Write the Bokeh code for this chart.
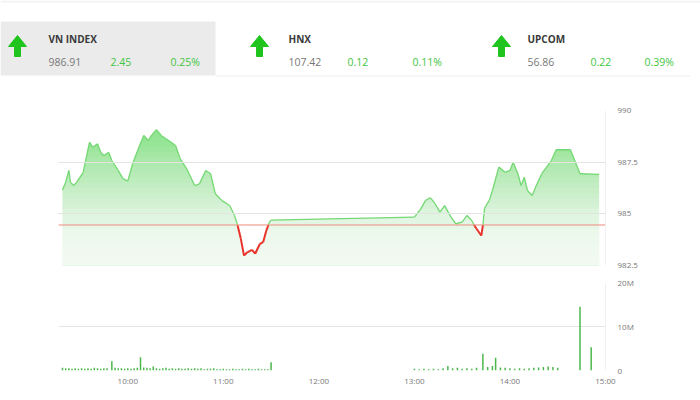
import numpy as np
from bokeh.plotting import figure
from bokeh.layouts import column
from bokeh.models import Range1d, FixedTicker, Span
from bokeh.embed import file_html
from bokeh.resources import INLINE
from bokeh.core.properties import value

# ---------------- data ----------------
index_names = ["VN INDEX", "HNX", "UPCOM"]
index_values = ["986.91", "107.42", "56.86"]
index_changes = ["2.45", "0.12", "0.22"]
index_pcts = ["0.25%", "0.11%", "0.39%"]

ref_price = 984.46

price_times = ["09:19", "09:21", "09:23", "09:24", "09:26", "09:28", "09:32", "09:34",
               "09:36", "09:38", "09:41", "09:43", "09:45", "09:48", "09:50", "09:54",
               "09:57", "10:00", "10:03", "10:07", "10:10", "10:13", "10:14", "10:18",
               "10:21", "10:24", "10:27", "10:30", "10:33", "10:37", "10:42", "10:45",
               "10:49", "10:52", "10:55", "10:59", "11:04", "11:07", "11:09", "11:11",
               "11:13", "11:15", "11:18", "11:20", "11:23", "11:25", "11:27", "11:29",
               "11:30",
               "13:00", "13:04", "13:07", "13:10", "13:13", "13:16", "13:19", "13:23",
               "13:26", "13:30", "13:33", "13:36", "13:38", "13:39", "13:42", "13:43",
               "13:44", "13:45", "13:47", "13:49", "13:53", "13:57", "14:00", "14:02",
               "14:05", "14:07", "14:09", "14:11", "14:14", "14:17", "14:20", "14:23",
               "14:26", "14:29", "14:38", "14:44", "14:56"]
price_values = [986.15, 986.53, 987.10, 986.53, 986.37, 986.53, 987.01, 987.74,
                988.47, 988.22, 988.39, 987.98, 987.82, 987.98, 987.58, 987.10,
                986.70, 986.58, 987.42, 988.22, 988.79, 988.55, 988.71, 989.07,
                988.79, 988.63, 988.47, 988.31, 987.66, 987.18, 986.37, 986.45,
                987.10, 986.94, 985.97, 985.65, 985.40, 984.92, 984.44, 983.79,
                982.98, 983.14, 983.26, 983.07, 983.55, 983.63, 984.19, 984.60,
                984.70,
                984.84, 985.24, 985.65, 985.78, 985.49, 985.08, 985.40, 984.84,
                984.52, 984.60, 984.92, 984.68, 984.39, 984.28, 983.95, 984.44,
                985.24, 985.40, 985.65, 986.13, 987.26, 987.01, 987.10, 987.50,
                986.94, 986.37, 986.77, 986.13, 985.89, 986.45, 986.94, 987.26,
                987.58, 988.10, 988.10, 986.94, 986.91]

vol_times = ["09:19", "09:21", "09:23", "09:25", "09:27", "09:29", "09:31", "09:33",
             "09:35", "09:37", "09:39", "09:41", "09:43", "09:45", "09:47", "09:50",
             "09:52", "09:54", "09:56", "09:58", "10:00", "10:02", "10:04", "10:06",
             "10:08", "10:10", "10:12", "10:14", "10:16", "10:18", "10:20", "10:22",
             "10:24", "10:26", "10:28", "10:30", "10:32", "10:34", "10:36", "10:38",
             "10:40", "10:42", "10:44", "10:46", "10:48", "10:50", "10:52", "10:54",
             "10:56", "10:58", "11:00", "11:02", "11:04", "11:06", "11:08", "11:10",
             "11:12", "11:14", "11:16", "11:18", "11:20", "11:22", "11:24", "11:26",
             "11:28", "11:30",
             "13:00", "13:03", "13:06", "13:09", "13:12", "13:15", "13:18", "13:21",
             "13:24", "13:27", "13:30", "13:33", "13:36", "13:39", "13:43", "13:46",
             "13:49", "13:51", "13:54", "13:57", "14:00", "14:03", "14:06", "14:09",
             "14:12", "14:15", "14:18", "14:21", "14:24", "14:27", "14:30", "14:44",
             "14:51"]
vol_values = [0.6, 0.5, 0.5, 0.4, 0.5, 0.4, 0.5, 0.4,
              0.5, 0.4, 0.6, 0.5, 0.4, 0.5, 0.5, 2.1,
              0.6, 0.5, 0.5, 0.4, 0.5, 0.4, 0.5, 0.6,
              3.0, 0.7, 0.6, 0.5, 0.9, 0.5, 0.4, 0.5,
              0.6, 0.4, 0.5, 0.4, 0.5, 0.4, 0.4, 0.5,
              0.4, 0.5, 0.4, 0.5, 0.3, 0.4, 0.4, 0.5,
              0.3, 0.3, 0.4, 0.3, 0.3, 0.4, 0.3, 0.3,
              0.4, 0.3, 0.4, 0.3, 0.3, 0.4, 0.3, 0.3,
              0.3, 1.9,
              0.4, 0.3, 0.4, 0.3, 0.4, 0.3, 0.5, 1.0,
              0.5, 0.6, 0.4, 0.5, 0.4, 0.6, 3.8, 0.8,
              1.0, 2.9, 0.7, 0.6, 0.5, 0.4, 0.5, 0.4,
              0.5, 0.6, 0.7, 0.8, 0.9, 0.8, 0.6, 14.5,
              5.3]  # millions

x_tick_labels = ["10:00", "11:00", "12:00", "13:00", "14:00", "15:00"]
price_ticks = [982.5, 985, 987.5, 990]
price_tick_labels = ["982.5", "985", "987.5", "990"]
vol_ticks = [0, 10, 20]
vol_tick_labels = ["0", "10M", "20M"]

# ---------------- helpers ----------------
def to_min(t):
    h, m = t.split(":")
    return (int(h) - 9) * 60 + int(m)

px = np.array([to_min(t) for t in price_times], dtype=float)
py = np.array(price_values, dtype=float)
vx = np.array([to_min(t) for t in vol_times], dtype=float)
vy = np.array(vol_values, dtype=float)
xticks = [to_min(t) for t in x_tick_labels]

X0, X1 = 16.5, 360.0
Y0, Y1 = 982.5, 990.0
W = 700
BL, BR = 58, 95
FONT = value("Open Sans")
GREEN_TXT = "#3fc63f"
ARROW = "#1fc41f"


def no_align(fig):
    if "frame_align" in fig.properties():
        fig.frame_align = False


# ---------------- header ----------------
HH = 92
hdr = figure(width=W, height=HH, x_range=Range1d(0, W), y_range=Range1d(HH, 0),
             x_axis_location=None, y_axis_location=None,
             toolbar_location=None, output_backend="svg", min_border=0)
no_align(hdr)
hdr.grid.visible = False
hdr.outline_line_color = None
hdr.quad(left=[0], right=[W], top=[0], bottom=[2], fill_color="#f2f2f2", line_color=None)
hdr.quad(left=[0], right=[215], top=[21], bottom=[75], fill_color="#ebebeb", line_color=None)
hdr.segment(x0=[215], y0=[75.5], x1=[690], y1=[75.5], line_color="#eeeeee", line_width=1)

arrow_x = [17, 259, 501]
name_x = [48, 288, 527]
chg_x = [110, 347, 590]
pct_x = [170, 412, 644]
hdr.patches(xs=[[a, a + 9, a + 3, a + 3, a - 3, a - 3, a - 9] for a in arrow_x],
            ys=[[35, 46, 46, 56, 56, 46, 46] for a in arrow_x],
            fill_color=ARROW, line_color=ARROW, line_width=1)

hdr.text(x=name_x, y=[38] * 3, text=index_names, text_font=FONT, text_font_size=value("10px"),
         text_font_style="bold", text_color="#3a3a3a", text_baseline="middle", text_align="left")
hdr.text(x=name_x, y=[61] * 3, text=index_values, text_font=FONT, text_font_size=value("10.5px"),
         text_color="#777777", text_baseline="middle", text_align="left")
hdr.text(x=chg_x, y=[61] * 3, text=index_changes, text_font=FONT, text_font_size=value("10.5px"),
         text_color=GREEN_TXT, text_baseline="middle", text_align="left")
hdr.text(x=pct_x, y=[61] * 3, text=index_pcts, text_font=FONT, text_font_size=value("10.5px"),
         text_color=GREEN_TXT, text_baseline="middle", text_align="left")

# ---------------- price panel ----------------
p = figure(width=W, height=180, x_range=Range1d(X0, X1), y_range=Range1d(Y0, Y1),
           x_axis_location=None, y_axis_location="right", toolbar_location=None,
           output_backend="svg", min_border_left=BL, min_border_right=BR,
           min_border_top=18, min_border_bottom=7)
p.outline_line_color = None
p.xgrid.visible = False
p.ygrid.ticker = FixedTicker(ticks=price_ticks)
p.ygrid.grid_line_color = "#e4e4e4"
p.ygrid.level = "overlay"
p.yaxis.ticker = FixedTicker(ticks=price_ticks)
p.yaxis.major_label_overrides = dict(zip(price_ticks, price_tick_labels))
p.yaxis.axis_line_color = None
p.yaxis.major_tick_line_color = None
p.yaxis.minor_tick_line_color = None
p.yaxis.major_tick_out = 0
p.yaxis.major_label_standoff = 12
p.yaxis.major_label_text_font = "Open Sans"
p.yaxis.major_label_text_font_size = "8px"
p.yaxis.major_label_text_color = "#777777"

# solid area, then white bands fading toward the bottom (gradient look)
p.varea(x=px, y1=np.full_like(py, Y0), y2=py, fill_color="#8ee48e", fill_alpha=1.0)
lv = np.arange(Y0 + 0.25, 989.01, 0.25)
tgt_h = [982.5, 984.0, 985.0, 986.0, 987.5, 988.5, 989.3]
tgt_w = [0.93, 0.86, 0.74, 0.55, 0.28, 0.06, 0.0]
prev_T = 1.0
tops, alphas = [], []
for L in lv[::-1]:
    T = 1.0 - np.interp(L - 0.125, tgt_h, tgt_w)
    a = max(0.0, 1.0 - T / prev_T)
    prev_T = T
    tops.append(L)
    alphas.append(a)
p.quad(left=[X0] * len(tops), right=[X1] * len(tops), bottom=[Y0] * len(tops), top=tops,
       fill_color="white", fill_alpha=alphas, line_color=None)

# price line: green above the reference, red below
gx0, gy0, gx1, gy1, rx0, ry0, rx1, ry1 = [], [], [], [], [], [], [], []
for i in range(len(px) - 1):
    xa, ya, xb, yb = px[i], py[i], px[i + 1], py[i + 1]
    if ya >= ref_price and yb >= ref_price:
        gx0.append(xa); gy0.append(ya); gx1.append(xb); gy1.append(yb)
    elif ya < ref_price and yb < ref_price:
        rx0.append(xa); ry0.append(ya); rx1.append(xb); ry1.append(yb)
    else:
        xc = xa + (ref_price - ya) / (yb - ya) * (xb - xa)
        if ya >= ref_price:
            gx0.append(xa); gy0.append(ya); gx1.append(xc); gy1.append(ref_price)
            rx0.append(xc); ry0.append(ref_price); rx1.append(xb); ry1.append(yb)
        else:
            rx0.append(xa); ry0.append(ya); rx1.append(xc); ry1.append(ref_price)
            gx0.append(xc); gy0.append(ref_price); gx1.append(xb); gy1.append(yb)
p.segment(x0=gx0, y0=gy0, x1=gx1, y1=gy1, line_color="#74d874", line_width=1.3)
p.add_layout(Span(location=ref_price, dimension="width", line_color="#ee8a7c", line_width=1))
p.segment(x0=rx0, y0=ry0, x1=rx1, y1=ry1, line_color="#e8322a", line_width=2)
p.add_layout(Span(location=X1, dimension="height", line_color="#e2e2e2", line_width=1))

# ---------------- volume panel ----------------
v = figure(width=W, height=128, x_range=p.x_range, y_range=Range1d(0, 20),
           x_axis_location="below", y_axis_location="right", toolbar_location=None,
           output_backend="svg", min_border_left=BL, min_border_right=BR,
           min_border_top=10, min_border_bottom=30)
v.outline_line_color = None
v.xgrid.visible = False
v.ygrid.ticker = FixedTicker(ticks=vol_ticks)
v.ygrid.grid_line_color = "#e4e4e4"
for axis in (v.xaxis, v.yaxis):
    axis.axis_line_color = None
    axis.major_tick_line_color = None
    axis.minor_tick_line_color = None
    axis.major_tick_out = 0
    axis.major_label_text_font = "Open Sans"
    axis.major_label_text_font_size = "8px"
    axis.major_label_text_color = "#777777"
v.yaxis.ticker = FixedTicker(ticks=vol_ticks)
v.yaxis.major_label_overrides = dict(zip(vol_ticks, vol_tick_labels))
v.yaxis.major_label_standoff = 12
v.xaxis.ticker = FixedTicker(ticks=xticks)
v.xaxis.major_label_overrides = dict(zip(xticks, x_tick_labels))
v.xaxis.major_label_standoff = 4
v.segment(x0=vx, y0=np.zeros_like(vy), x1=vx, y1=vy, line_color="#4cb84c", line_width=1.5)
v.add_layout(Span(location=X1, dimension="height", line_color="#e2e2e2", line_width=1))

page = column(hdr, p, v, spacing=0)
open("out.html", "w").write(file_html(page, INLINE))
